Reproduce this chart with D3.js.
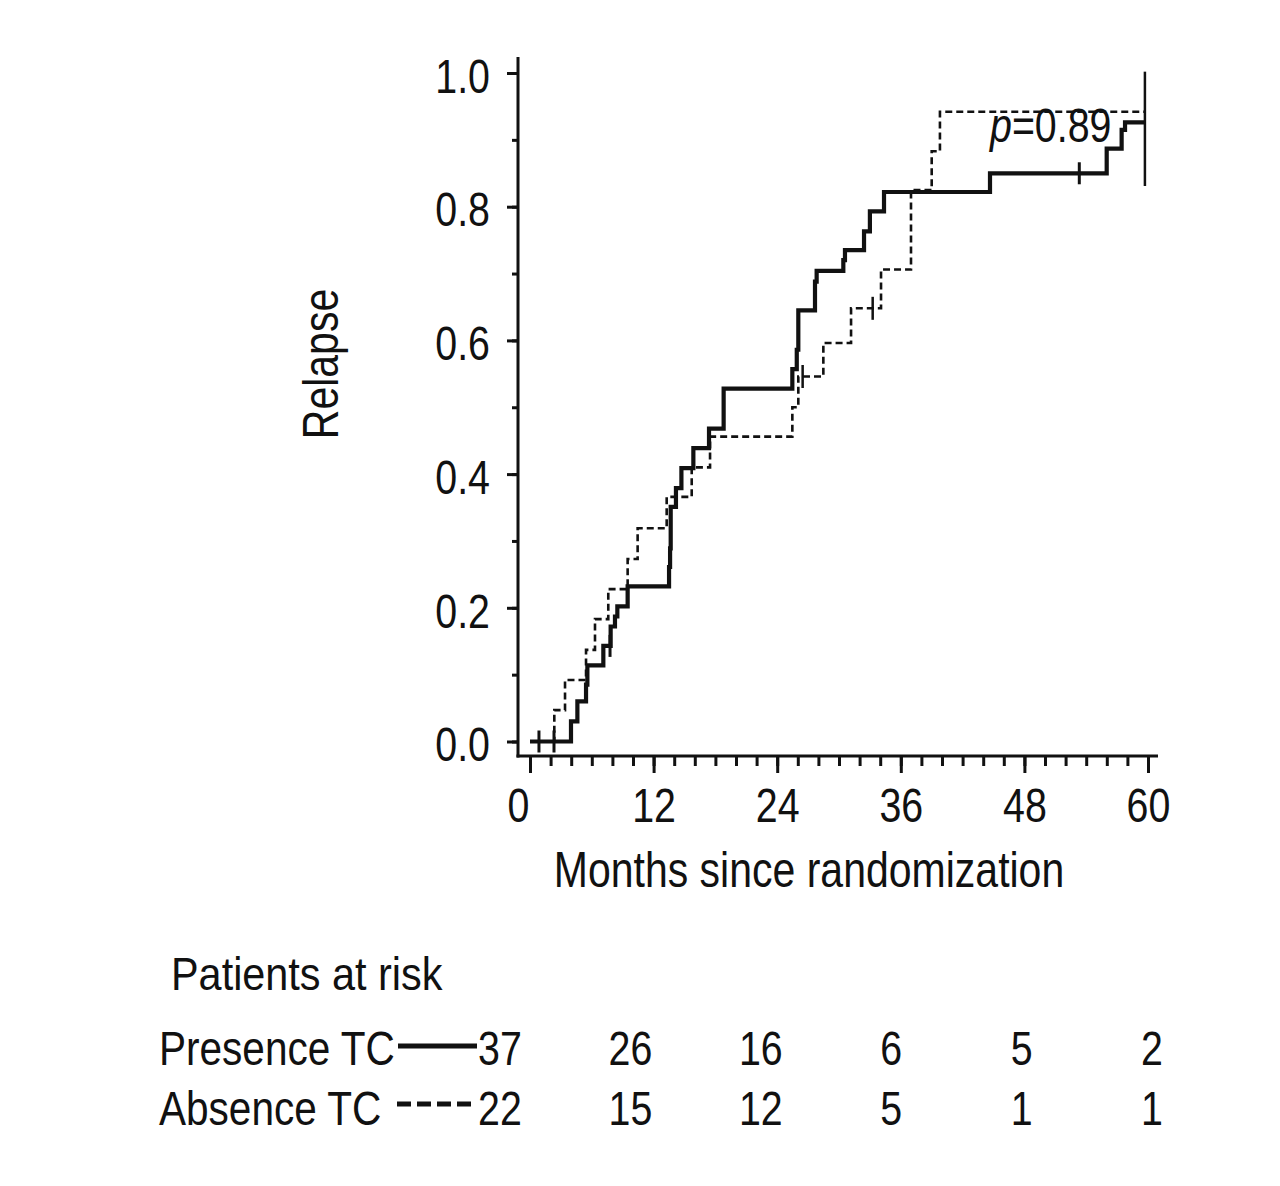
<!DOCTYPE html>
<html><head><meta charset="utf-8">
<script src="https://cdn.jsdelivr.net/npm/d3@7/dist/d3.min.js"></script>
<style>
body{margin:0;background:#fff}
text{font-family:"Liberation Sans",Arial,sans-serif;fill:#111}
</style>
</head><body>
<svg id="c" width="1280" height="1186"></svg>
<script>
// ---- data ----
const presenceTimes  = [0, 3.98, 4.6, 5.44, 5.57, 7.12, 7.83, 8.25, 8.48, 9.48, 13.5, 13.6, 13.66, 14.17, 14.7, 15.86, 17.38, 18.8, 25.47, 25.9, 26.05, 27.67, 27.83, 30.42, 30.58, 32.43, 33.0, 34.37, 44.66, 55.99, 57.44, 57.77, 59.7];
const presenceValues = [0, 0.030, 0.060, 0.085, 0.114, 0.143, 0.172, 0.187, 0.202, 0.232, 0.261, 0.289, 0.351, 0.379, 0.409, 0.439, 0.468, 0.528, 0.557, 0.586, 0.645, 0.688, 0.704, 0.720, 0.735, 0.763, 0.793, 0.822, 0.850, 0.887, 0.915, 0.926, 0.926];
const presenceCensorTimes  = [0.87, 2.33, 7.77, 53.33];
const presenceCensorValues = [0, 0, 0.143, 0.850];

const absenceTimes  = [0, 2.36, 3.4, 5.44, 6.31, 7.6, 9.48, 10.45, 13.27, 15.7, 17.48, 25.47, 26.05, 28.48, 31.17, 34.08, 36.99, 39.0, 39.8, 59.7];
const absenceValues = [0, 0.047, 0.092, 0.137, 0.183, 0.228, 0.273, 0.319, 0.366, 0.410, 0.456, 0.500, 0.546, 0.596, 0.648, 0.706, 0.825, 0.883, 0.942, 0.942];
const absenceCensorTimes  = [26.47, 33.27];
const absenceCensorValues = [0.546, 0.648];

const endMark = [59.7, 0.831, 1.002]; // time, low, high

const xMajorTicks = [0, 12, 24, 36, 48, 60];
const yMajorTicks = [0, 0.2, 0.4, 0.6, 0.8, 1.0];
const riskTimes = [0, 12, 24, 36, 48, 60];
const presenceAtRisk = [37, 26, 16, 6, 5, 2];
const absenceAtRisk  = [22, 15, 12, 5, 1, 1];
const groupLabels = ["Presence TC", "Absence TC"];
const pValueText = "=0.89";

// ---- drawing ----
const svg = d3.select("#c");
const ink = "#111";
const SX = 0.82; // horizontal condensing (narrow face look)
const x = d3.scaleLinear().domain([0, 60]).range([530, 1148]);
const y = d3.scaleLinear().domain([0, 1]).range([741.5, 73]);
const xAxisY = 756, yAxisX = 518;

function narrow(px, py, size, anchor, sx) {
  return svg.append("text")
    .attr("transform", `translate(${px},${py}) scale(${sx || SX},1)`)
    .attr("font-size", size).attr("text-anchor", anchor || "start");
}

// axis lines
svg.append("line").attr("x1", yAxisX).attr("x2", yAxisX).attr("y1", 57).attr("y2", xAxisY + 1.5)
  .attr("stroke", ink).attr("stroke-width", 3);
svg.append("line").attr("x1", yAxisX - 1.5).attr("x2", 1158).attr("y1", xAxisY).attr("y2", xAxisY)
  .attr("stroke", ink).attr("stroke-width", 3);

const gxm = svg.append("g").attr("transform", `translate(0,${xAxisY})`)
  .call(d3.axisBottom(x).tickValues(d3.range(0, 61, 2)).tickSize(10).tickFormat(""));
const gx = svg.append("g").attr("transform", `translate(0,${xAxisY})`)
  .call(d3.axisBottom(x).tickValues(xMajorTicks).tickSize(17).tickPadding(15).tickFormat(d3.format("d")));
const gym = svg.append("g").attr("transform", `translate(${yAxisX},0)`)
  .call(d3.axisLeft(y).tickValues(d3.range(0, 11).map(d => d / 10)).tickSize(6).tickFormat(""));
const gy = svg.append("g").attr("transform", `translate(${yAxisX},0)`)
  .call(d3.axisLeft(y).tickValues(yMajorTicks).tickSize(11).tickPadding(17).tickFormat(d3.format(".1f")));

[gxm, gx, gym, gy].forEach(g => {
  g.select(".domain").remove();
  g.selectAll(".tick line").attr("stroke", ink).attr("stroke-width", 3);
  g.selectAll("text").attr("font-size", 48).attr("fill", ink)
    .attr("font-family", '"Liberation Sans",Arial,sans-serif')
    .attr("transform", `scale(${SX},1)`);
});
gx.selectAll(".tick text").attr("dx", d => d === 0 ? -12 / SX : 0);
gy.selectAll(".tick text").attr("x", -28 / SX).attr("dy", "0.4em");

// axis titles
narrow(809, 887, 50, "middle").text("Months since randomization");
svg.append("text").attr("transform", `translate(338,364) rotate(-90) scale(${SX},1)`)
  .attr("text-anchor", "middle").attr("font-size", 50).text("Relapse");

// curves
const line = d3.line().x(d => x(d[0])).y(d => y(d[1])).curve(d3.curveStepAfter);
svg.append("path").datum(d3.zip(absenceTimes, absenceValues)).attr("d", line)
  .attr("fill", "none").attr("stroke", ink).attr("stroke-width", 2.6).attr("stroke-dasharray", "7,4");
svg.append("path").datum(d3.zip(presenceTimes, presenceValues)).attr("d", line)
  .attr("fill", "none").attr("stroke", ink).attr("stroke-width", 4.2);

// censor marks
svg.selectAll(".cp").data(d3.zip(presenceCensorTimes, presenceCensorValues)).join("line")
  .attr("x1", d => x(d[0])).attr("x2", d => x(d[0]))
  .attr("y1", d => y(d[1]) - 11).attr("y2", d => y(d[1]) + 11)
  .attr("stroke", ink).attr("stroke-width", 3);
svg.selectAll(".ca").data(d3.zip(absenceCensorTimes, absenceCensorValues)).join("line")
  .attr("x1", d => x(d[0])).attr("x2", d => x(d[0]))
  .attr("y1", d => y(d[1]) - 11.5).attr("y2", d => y(d[1]) + 11.5)
  .attr("stroke", ink).attr("stroke-width", 2.5);
svg.append("line").attr("x1", x(endMark[0])).attr("x2", x(endMark[0]))
  .attr("y1", y(endMark[2])).attr("y2", y(endMark[1]))
  .attr("stroke", ink).attr("stroke-width", 2.5);

// p value
const pt = narrow(990, 142, 48);
pt.append("tspan").attr("font-style", "italic").text("p");
pt.append("tspan").text(pValueText);

// risk table
const riskX = d3.scaleLinear().domain([0, 60]).range([500, 1152]);
narrow(171, 990, 46, "start", 0.9).text("Patients at risk");
const rowY = [1065, 1125];
groupLabels.forEach((g, i) => narrow(159, rowY[i], 48, "start", 0.845).text(g));
svg.append("line").attr("x1", 398).attr("x2", 477).attr("y1", 1046).attr("y2", 1046)
  .attr("stroke", ink).attr("stroke-width", 5);
svg.append("line").attr("x1", 397).attr("x2", 473).attr("y1", 1104).attr("y2", 1104)
  .attr("stroke", ink).attr("stroke-width", 5).attr("stroke-dasharray", "14,6");
[presenceAtRisk, absenceAtRisk].forEach((row, i) => {
  d3.zip(riskTimes, row).forEach(d => narrow(riskX(d[0]), rowY[i], 48, "middle").text(d[1]));
});
</script>
</body></html>
